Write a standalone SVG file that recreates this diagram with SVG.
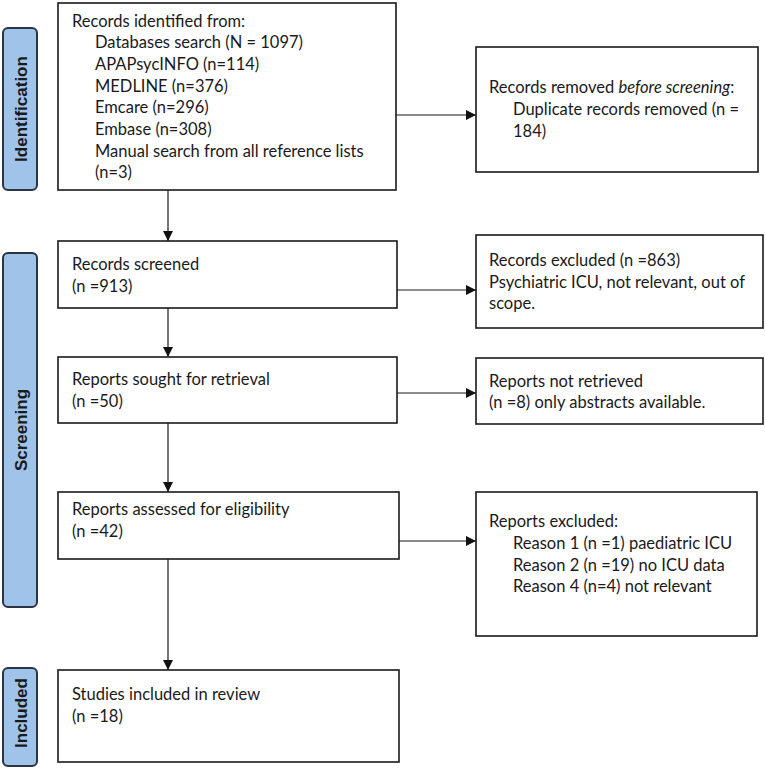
<svg xmlns="http://www.w3.org/2000/svg" width="766" height="769" viewBox="0 0 766 769">
<defs>
<marker id="ah" viewBox="0 0 10 10" refX="10" refY="5" markerWidth="10" markerHeight="10" markerUnits="userSpaceOnUse" orient="auto">
<path d="M0,0 L10,5 L0,10 Z" fill="#111"/>
</marker>
<style>
.box{fill:#fff;stroke:#1a1a1a;stroke-width:1.6}
.lab{fill:#9FC3E9;stroke:#2B3442;stroke-width:2}
.t{font-family:Lato,"Liberation Sans",sans-serif;font-size:16.5px;fill:#1a1a1a}
.lt{font-family:"Liberation Sans",Arial,sans-serif;font-size:17px;font-weight:bold;fill:#1a1a1a;text-anchor:middle;dominant-baseline:central}
.c{fill:none;stroke:#1a1a1a;stroke-width:1.2;marker-end:url(#ah)}
</style>
</defs>
<rect width="766" height="769" fill="#fff"/>
<g id="label-identification">
<rect class="lab" x="3" y="28" width="34" height="162" rx="5"/>
<text class="lt" transform="translate(21,109) rotate(-90)">Identification</text>
</g>
<g id="label-screening">
<rect class="lab" x="3" y="253" width="34" height="354" rx="5"/>
<text class="lt" transform="translate(21,430) rotate(-90)">Screening</text>
</g>
<g id="label-included">
<rect class="lab" x="3" y="668" width="34" height="98" rx="5"/>
<text class="lt" transform="translate(21,713) rotate(-90)">Included</text>
</g>
<g id="identified">
<rect class="box" x="58" y="3" width="338" height="187"/>
<text class="t" x="72" y="27">Records identified from:</text>
<text class="t" x="95" y="48">Databases search (N = 1097)</text>
<text class="t" x="95" y="70">APAPsycINFO (n=114)</text>
<text class="t" x="95" y="92">MEDLINE (n=376)</text>
<text class="t" x="95" y="113">Emcare (n=296)</text>
<text class="t" x="95" y="135">Embase (n=308)</text>
<text class="t" x="95" y="157">Manual search from all reference lists</text>
<text class="t" x="95" y="178">(n=3)</text>
</g>
<g id="removed">
<rect class="box" x="476" y="47" width="282" height="125"/>
<text class="t" x="489" y="93">Records removed <tspan font-style="italic">before screening</tspan>:</text>
<text class="t" x="513" y="115">Duplicate records removed (n =</text>
<text class="t" x="513" y="137">184)</text>
</g>
<g id="screened">
<rect class="box" x="58" y="241" width="339" height="67"/>
<text class="t" x="72" y="270">Records screened</text>
<text class="t" x="72" y="292">(n =913)</text>
</g>
<g id="excluded">
<rect class="box" x="476" y="235" width="287" height="93"/>
<text class="t" x="489" y="266">Records excluded (n =863)</text>
<text class="t" x="489" y="288">Psychiatric ICU, not relevant, out of</text>
<text class="t" x="489" y="309">scope.</text>
</g>
<g id="sought">
<rect class="box" x="58" y="357" width="339" height="66"/>
<text class="t" x="72" y="385">Reports sought for retrieval</text>
<text class="t" x="72" y="407">(n =50)</text>
</g>
<g id="not-retrieved">
<rect class="box" x="476" y="358" width="287" height="66"/>
<text class="t" x="489" y="387">Reports not retrieved</text>
<text class="t" x="489" y="408">(n =8) only abstracts available.</text>
</g>
<g id="assessed">
<rect class="box" x="58" y="492" width="341" height="67"/>
<text class="t" x="72" y="515">Reports assessed for eligibility</text>
<text class="t" x="72" y="537">(n =42)</text>
</g>
<g id="reports-excluded">
<rect class="box" x="476" y="492" width="281" height="144"/>
<text class="t" x="489" y="527">Reports excluded:</text>
<text class="t" x="513" y="549">Reason 1 (n =1) paediatric ICU</text>
<text class="t" x="513" y="571">Reason 2 (n =19) no ICU data</text>
<text class="t" x="513" y="592">Reason 4 (n=4) not relevant</text>
</g>
<g id="included">
<rect class="box" x="58" y="670" width="341" height="92"/>
<text class="t" x="72" y="700">Studies included in review</text>
<text class="t" x="72" y="722">(n =18)</text>
</g>
<g id="connectors">
<line class="c" x1="168" y1="190" x2="168" y2="241"/>
<line class="c" x1="168" y1="308" x2="168" y2="357"/>
<line class="c" x1="168" y1="423" x2="168" y2="492"/>
<line class="c" x1="168" y1="559" x2="168" y2="670"/>
<line class="c" x1="396" y1="115" x2="476" y2="115"/>
<line class="c" x1="397" y1="290" x2="476" y2="290"/>
<line class="c" x1="397" y1="393" x2="476" y2="393"/>
<line class="c" x1="399" y1="541" x2="476" y2="541"/>
</g>
</svg>
